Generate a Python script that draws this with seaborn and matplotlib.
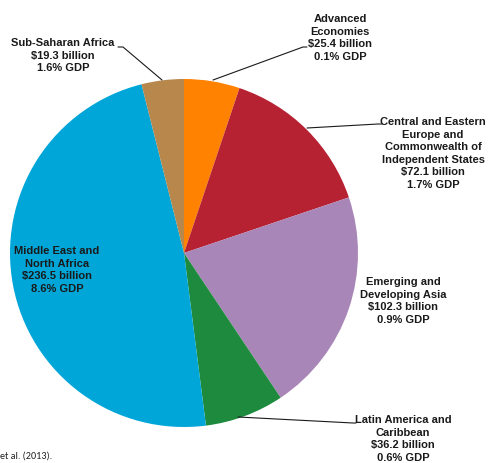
import matplotlib
matplotlib.use("Agg")
import matplotlib.pyplot as plt
import seaborn as sns

# Data
regions = ["Advanced Economies", "Central and Eastern Europe and CIS",
           "Emerging and Developing Asia", "Latin America and Caribbean",
           "Middle East and North Africa", "Sub-Saharan Africa"]
values = [25.4, 72.1, 102.3, 36.2, 236.5, 19.3]
labels = [
    "Advanced\nEconomies\n$25.4 billion\n0.1% GDP",
    "Central and Eastern\nEurope and\nCommonwealth of\nIndependent States\n$72.1 billion\n1.7% GDP",
    "Emerging and\nDeveloping Asia\n$102.3 billion\n0.9% GDP",
    "Latin America and\nCaribbean\n$36.2 billion\n0.6% GDP",
    "Middle East and\nNorth Africa\n$236.5 billion\n8.6% GDP",
    "Sub-Saharan Africa\n$19.3 billion\n1.6% GDP",
]
colors = ["#FF8200", "#B72233", "#A986B8", "#1D8A3D", "#00A6D8", "#B8874B"]

sns.set_theme(style="white")
plt.rcParams['font.family'] = ['Liberation Sans', 'DejaVu Sans']
palette = sns.color_palette(colors)

W, H = 489, 464
fig = plt.figure(figsize=(W / 100, H / 100), dpi=100)
ax = fig.add_axes([0, 0, 1, 1])

def Y(y):
    return H - y

cx, cy, r = 184, 254, 174
ax.pie(values, colors=palette, startangle=90, counterclock=False,
       center=(cx, Y(cy)), radius=r, frame=True,
       wedgeprops=dict(linewidth=0))
ax.set_xlim(0, W)
ax.set_ylim(0, H)
ax.set_aspect("equal")
ax.axis("off")

# label positions (pixel coords: x center, y of first-line center)
pos = [(340, 19), (433, 122), (403, 282), (403, 420), (57, 251), (63, 43)]
fs = 8
for lab, (x, y) in zip(labels, pos):
    ax.text(x, Y(y) + 5, lab, ha="center", va="top", fontsize=fs,
            fontweight="bold", color="#1a1a1a", linespacing=1.32)

# leader lines
lines = [
    [(213, 81), (303, 48), (307, 48)],
    [(307, 129), (378, 125), (382, 125)],
    [(238, 418), (353, 424), (356, 424)],
    [(162, 81), (123, 48), (118, 48)],
]
for pts in lines:
    xs = [p[0] for p in pts]
    ys = [Y(p[1]) for p in pts]
    ax.plot(xs, ys, color="#1a1a1a", lw=0.8)

ax.text(0, Y(456), "et al. (2013).", ha="left", va="center", fontsize=7.3,
        color="#222222", family=["Carlito", "Liberation Sans", "DejaVu Sans"])

fig.savefig("out.png", dpi=100)
